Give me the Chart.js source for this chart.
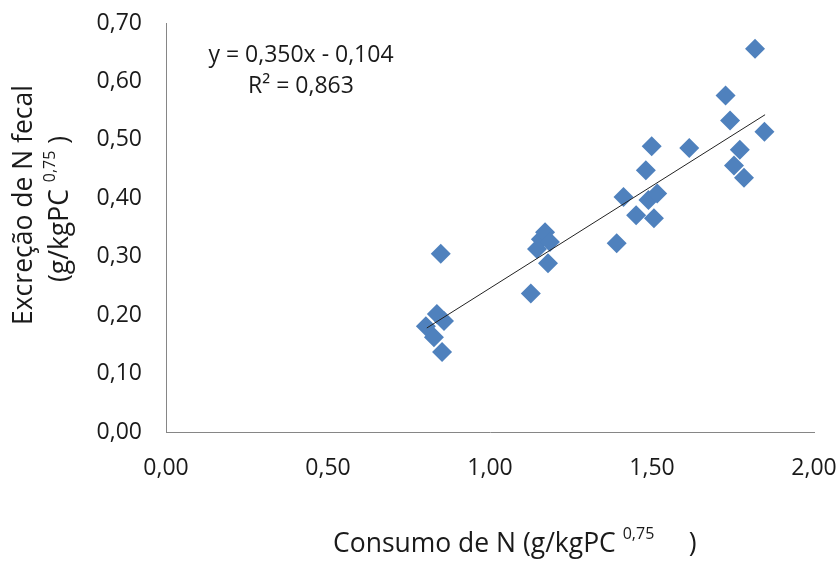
<!DOCTYPE html>
<html>
<head>
<meta charset="utf-8">
<script src="https://cdn.jsdelivr.net/npm/chart.js@4"></script>
<style>
  html, body { margin: 0; padding: 0; background: #fff; }
  #wrap { width: 839px; height: 562px; }
</style>
</head>
<body>
<div id="wrap"><canvas id="nChart" width="839" height="562"></canvas></div>
<script>
// Consumo de N (x) vs Excreção de N fecal (y)
const consumoN = [0.848, 0.802, 0.836, 0.858, 0.827, 0.852,
    1.126, 1.145, 1.157, 1.170, 1.185, 1.179,
    1.391, 1.412, 1.451, 1.481, 1.499, 1.489, 1.516, 1.506,
    1.615, 1.727, 1.741, 1.753, 1.771, 1.784, 1.818, 1.847];
const excrecaoN = [0.305, 0.181, 0.202, 0.190, 0.162, 0.137,
    0.237, 0.313, 0.330, 0.342, 0.325, 0.289,
    0.323, 0.402, 0.371, 0.448, 0.489, 0.397, 0.408, 0.366,
    0.486, 0.576, 0.533, 0.456, 0.483, 0.435, 0.656, 0.514];

// trend line end points
const trendX = [0.805, 1.849];
const trendY = [0.178, 0.543];

const equationText = 'y = 0,350x - 0,104';
const r2Label = 'R² = 0,863';

const FONT = '"Open Sans", sans-serif';
const fmt = v => v.toFixed(2).replace('.', ',');

// measure / draw a run of [text, isSuperscript] pieces
const runWidth = (ctx, runs, size, supSize) => runs.reduce((w, [txt, sup]) => {
    ctx.font = (sup ? supSize : size) + 'px ' + FONT;
    return w + ctx.measureText(txt).width;
}, 0);

const drawRuns = (ctx, runs, x, y, size, supSize, supRise) => {
    let cx = x;
    runs.forEach(([txt, sup]) => {
        ctx.font = (sup ? supSize : size) + 'px ' + FONT;
        ctx.fillText(txt, cx, sup ? y - supRise : y);
        cx += ctx.measureText(txt).width;
    });
};

const xTitle = [['Consumo de N (g/kgPC ', false], ['0,75', true], ['     )', false]];
const yTitle1 = 'Excreção de N fecal';
const yTitle2 = [['(g/kgPC ', false], ['0,75', true], [' )', false]];

const textPlugin = {
    id: 'texts',
    afterDraw(chart) {
        const ctx = chart.ctx;
        ctx.save();
        ctx.fillStyle = '#1a1a1a';
        ctx.textBaseline = 'alphabetic';

        // equation
        ctx.textAlign = 'center';
        ctx.font = '23px ' + FONT;
        ctx.fillText(equationText, 301, 62);
        ctx.fillText(r2Label, 301, 93);

        // x title
        ctx.textAlign = 'left';
        drawRuns(ctx, xTitle, 333, 552, 26.5, 16, 13);

        // y title line 1
        ctx.translate(32, 205);
        ctx.rotate(-Math.PI / 2);
        ctx.textAlign = 'center';
        ctx.font = '26.5px ' + FONT;
        ctx.fillText(yTitle1, 0, 0);
        ctx.restore();

        // y title line 2
        ctx.save();
        ctx.fillStyle = '#1a1a1a';
        ctx.textAlign = 'left';
        ctx.translate(68, 209);
        ctx.rotate(-Math.PI / 2);
        const w2 = runWidth(ctx, yTitle2, 26.5, 16);
        drawRuns(ctx, yTitle2, -w2 / 2, 0, 26.5, 16, 13);
        ctx.restore();
    }
};

const ctx = document.getElementById('nChart').getContext('2d');
const nChart = new Chart(ctx, {
    type: 'scatter',
    data: {
        datasets: [{
            type: 'line',
            label: 'Tendência',
            data: trendX.map((x, i) => ({ x: x, y: trendY[i] })),
            borderColor: '#222222',
            borderWidth: 1,
            pointRadius: 0,
            fill: false,
            order: 0
        }, {
            label: 'Excreção de N fecal',
            data: consumoN.map((x, i) => ({ x: x, y: excrecaoN[i] })),
            pointStyle: 'rectRot',
            pointRadius: 10,
            pointHoverRadius: 10,
            backgroundColor: '#4F81BD',
            borderColor: '#4F81BD',
            borderWidth: 0,
            order: 1
        }]
    },
    options: {
        responsive: false,
        animation: false,
        layout: { padding: { left: 0, top: 23, right: 25, bottom: 0 } },
        plugins: {
            legend: { display: false },
            tooltip: { enabled: false }
        },
        scales: {
            x: {
                type: 'linear',
                min: 0,
                max: 2,
                grid: { display: false, drawTicks: false },
                border: { display: true, color: '#868686', width: 1 },
                ticks: {
                    stepSize: 0.5,
                    padding: 23,
                    color: '#1a1a1a',
                    font: { family: FONT, size: 23 },
                    maxRotation: 0,
                    callback: v => fmt(v)
                },
                afterFit: s => {
                    s.height = 130;
                    s.paddingLeft = 0;
                    s.paddingRight = 0;
                }
            },
            y: {
                min: 0,
                max: 0.7,
                grid: { display: false, drawTicks: false },
                border: { display: true, color: '#868686', width: 1 },
                ticks: {
                    stepSize: 0.1,
                    padding: 24,
                    color: '#1a1a1a',
                    font: { family: FONT, size: 23 },
                    callback: v => fmt(v)
                },
                afterFit: s => {
                    s.width = 166;
                    s.paddingTop = 0;
                    s.paddingBottom = 0;
                }
            }
        }
    },
    plugins: [textPlugin]
});
</script>
</body>
</html>
